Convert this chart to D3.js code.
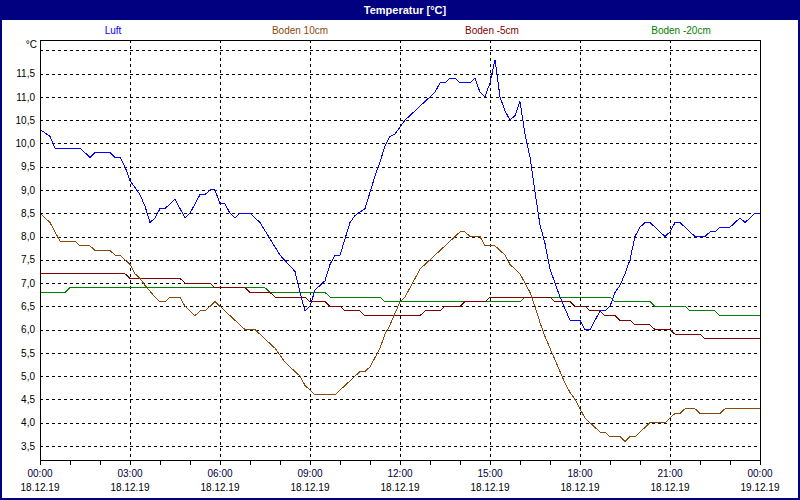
<!DOCTYPE html>
<html>
<head>
<meta charset="utf-8">
<script src="https://cdn.jsdelivr.net/npm/d3@7"></script>
<style>
  body { margin: 0; background: #fff; }
  svg { display: block; font-family: "Liberation Sans", Arial, sans-serif; }
</style>
</head>
<body>
<div id="chart"></div>
<script>
// series, [time, °C]
const luft = [["00:00",10.3],["00:20",10.15],["00:30",9.9],["01:20",9.9],["01:40",9.7],["01:50",9.8],["02:20",9.8],["02:30",9.7],["02:40",9.7],["02:50",9.5],["03:00",9.2],["03:10",9.05],["03:20",8.9],["03:30",8.65],["03:40",8.3],["03:50",8.4],["04:00",8.6],["04:10",8.6],["04:30",8.8],["04:40",8.6],["04:50",8.4],["05:00",8.5],["05:20",8.9],["05:30",8.9],["05:40",9.0],["05:50",9.0],["06:00",8.7],["06:10",8.7],["06:20",8.5],["06:30",8.4],["06:40",8.5],["07:00",8.5],["07:20",8.3],["07:40",7.95],["08:00",7.6],["08:30",7.25],["08:40",6.8],["08:50",6.4],["09:00",6.5],["09:10",6.85],["09:20",6.95],["09:30",7.05],["09:40",7.4],["09:50",7.6],["10:00",7.6],["10:10",7.95],["10:20",8.3],["10:30",8.45],["10:50",8.6],["11:00",8.95],["11:10",9.3],["11:20",9.6],["11:30",9.95],["11:40",10.15],["11:50",10.2],["12:00",10.35],["12:10",10.5],["12:20",10.6],["12:40",10.8],["13:00",11.0],["13:10",11.1],["13:20",11.3],["13:30",11.3],["13:40",11.4],["13:50",11.4],["14:00",11.3],["14:20",11.3],["14:30",11.4],["14:40",11.1],["14:50",11.0],["15:00",11.3],["15:10",11.8],["15:20",11.0],["15:30",10.7],["15:40",10.5],["15:50",10.6],["16:00",10.9],["16:10",10.2],["16:20",9.7],["16:30",8.95],["16:40",8.25],["16:50",7.85],["17:00",7.3],["17:10",7.0],["17:20",6.7],["17:30",6.45],["17:40",6.2],["18:00",6.2],["18:10",6.0],["18:20",6.0],["18:40",6.4],["18:50",6.4],["19:00",6.5],["19:10",6.8],["19:20",6.95],["19:30",7.2],["19:40",7.5],["19:50",8.0],["20:00",8.2],["20:10",8.3],["20:20",8.3],["20:50",8.0],["21:00",8.1],["21:10",8.3],["21:20",8.3],["21:50",8.0],["22:10",8.0],["22:20",8.1],["22:30",8.1],["22:40",8.2],["23:00",8.2],["23:20",8.4],["23:30",8.3],["23:50",8.5],["24:00",8.5]];

const boden10 = [["00:00",8.5],["00:20",8.3],["00:40",7.9],["01:10",7.9],["01:20",7.8],["01:40",7.8],["01:50",7.7],["02:20",7.7],["02:30",7.6],["02:40",7.6],["02:50",7.5],["03:00",7.4],["03:10",7.2],["03:20",7.1],["03:30",6.95],["03:50",6.7],["04:00",6.6],["04:10",6.6],["04:20",6.7],["04:40",6.7],["04:50",6.5],["05:00",6.4],["05:10",6.3],["05:20",6.4],["05:30",6.4],["05:50",6.6],["06:00",6.5],["06:10",6.4],["06:20",6.3],["06:30",6.2],["06:50",6.0],["07:10",6.0],["07:20",5.9],["07:30",5.8],["07:40",5.7],["07:50",5.6],["08:00",5.45],["08:10",5.3],["08:20",5.2],["08:40",5.0],["08:50",4.8],["09:00",4.7],["09:10",4.6],["09:50",4.6],["10:00",4.7],["10:30",5.0],["10:40",5.1],["10:50",5.1],["11:00",5.2],["11:10",5.4],["11:20",5.6],["11:30",5.9],["11:40",6.1],["11:50",6.35],["12:00",6.6],["12:10",6.7],["12:20",6.9],["12:40",7.3],["12:50",7.4],["13:00",7.5],["13:20",7.7],["13:30",7.8],["13:40",7.9],["13:50",8.0],["14:00",8.1],["14:10",8.1],["14:20",8.0],["14:40",8.0],["14:50",7.8],["15:10",7.8],["15:20",7.7],["15:30",7.6],["15:40",7.4],["15:50",7.3],["16:00",7.2],["16:10",7.0],["16:20",6.8],["16:30",6.5],["16:40",6.15],["16:50",5.85],["17:00",5.6],["17:10",5.35],["17:20",5.1],["17:30",4.85],["17:40",4.65],["17:50",4.5],["18:00",4.3],["18:10",4.1],["18:20",4.0],["18:30",3.9],["18:40",3.8],["18:50",3.8],["19:00",3.7],["19:20",3.7],["19:30",3.6],["19:40",3.7],["19:50",3.7],["20:00",3.8],["20:20",4.0],["20:50",4.0],["21:00",4.1],["21:10",4.2],["21:20",4.2],["21:30",4.3],["21:50",4.3],["22:00",4.2],["22:40",4.2],["22:50",4.3],["24:00",4.3]];

const boden5 = [["00:00",7.2],["02:50",7.2],["03:00",7.1],["04:40",7.1],["04:50",7.0],["05:40",7.0],["05:50",6.9],["06:50",6.9],["07:00",6.8],["07:40",6.8],["07:50",6.7],["08:50",6.7],["09:00",6.6],["09:30",6.6],["09:40",6.5],["10:00",6.5],["10:10",6.4],["10:40",6.4],["10:50",6.3],["12:40",6.3],["12:50",6.4],["13:20",6.4],["13:30",6.5],["14:00",6.5],["14:10",6.6],["14:50",6.6],["15:00",6.7],["17:00",6.7],["17:10",6.6],["17:40",6.6],["17:50",6.5],["18:10",6.5],["18:20",6.4],["18:40",6.4],["18:50",6.3],["19:10",6.3],["19:20",6.2],["19:40",6.2],["19:50",6.1],["20:20",6.1],["20:30",6.0],["21:00",6.0],["21:10",5.9],["22:00",5.9],["22:10",5.8],["24:00",5.8]];

const boden20 = [["00:00",6.8],["00:50",6.8],["01:00",6.9],["07:30",6.9],["07:40",6.8],["09:30",6.8],["09:40",6.7],["11:20",6.7],["11:30",6.6],["16:00",6.6],["16:10",6.7],["19:00",6.7],["19:10",6.6],["20:20",6.6],["20:30",6.5],["21:30",6.5],["21:40",6.4],["22:30",6.4],["22:40",6.3],["24:00",6.3]];

const seriesNames = ["Luft", "Boden 10cm", "Boden -5cm", "Boden -20cm"];
const seriesColors = ["#0000ff", "#8b4a0c", "#800000", "#008000"];
const yTicks = [3.5, 4.0, 4.5, 5.0, 5.5, 6.0, 6.5, 7.0, 7.5, 8.0, 8.5, 9.0, 9.5, 10.0, 10.5, 11.0, 11.5];
const yGrid = [3.5, 4.0, 4.5, 5.0, 5.5, 6.0, 6.5, 7.0, 7.5, 8.0, 8.5, 9.0, 9.5, 10.0, 10.5, 11.0, 11.5, 12.0];
const dayStart = "2019-12-18", dayEnd = "2019-12-19";

const w = 800, h = 500;
const pLeft = 40, pRight = 760, pTop = 40, pBottom = 460;
const legendX = [113, 300, 492, 681];

const toDate = s => {
  const [hh, mm] = s.split(":").map(Number);
  return new Date(2019, 11, 18, hh, mm);
};
const parseDay = d3.timeParse("%Y-%m-%d");

const x = d3.scaleTime([parseDay(dayStart), parseDay(dayEnd)], [pLeft, pRight]);
const y = d3.scaleLinear([3.5, 12.0], [446, 50.3]);

const svg = d3.select("#chart").append("svg")
  .attr("width", w)
  .attr("height", h);

// window frame
svg.append("rect").attr("x", 0).attr("y", 0).attr("width", w).attr("height", h).attr("fill", "#000080");
svg.append("rect").attr("x", 2).attr("y", 20).attr("width", w - 4).attr("height", h - 22).attr("fill", "#fff");

svg.append("text")
  .text("Temperatur [°C]")
  .attr("x", 405).attr("y", 14)
  .attr("text-anchor", "middle")
  .attr("font-size", 11).attr("font-weight", "bold")
  .attr("fill", "#fff");

// legend
svg.append("g").selectAll("text")
  .data(seriesNames)
  .join("text")
  .text(d => d)
  .attr("x", (d, i) => legendX[i]).attr("y", 34)
  .attr("text-anchor", "middle")
  .attr("font-size", 10)
  .attr("fill", (d, i) => seriesColors[i]);

// grid
const grid = svg.append("g")
  .attr("stroke", "#000").attr("stroke-dasharray", "3,3")
  .attr("shape-rendering", "crispEdges");
grid.selectAll("line.h").data(yGrid).join("line")
  .attr("class", "h")
  .attr("x1", pLeft).attr("x2", pRight)
  .attr("y1", d => Math.round(y(d)) + 0.5).attr("y2", d => Math.round(y(d)) + 0.5);
grid.selectAll("line.v").data(x.ticks(d3.timeHour.every(3)).slice(1, -1)).join("line")
  .attr("class", "v")
  .attr("y1", pTop).attr("y2", pBottom)
  .attr("x1", d => Math.round(x(d)) + 0.5).attr("x2", d => Math.round(x(d)) + 0.5);

// lines
const line = d3.line()
  .x(d => x(toDate(d[0])))
  .y(d => y(d[1]));

const allSeries = [boden20, boden5, boden10, luft];
const colorOrder = [3, 2, 1, 0];
svg.append("g").selectAll("path")
  .data(allSeries)
  .join("path")
  .attr("d", d => line(d))
  .attr("fill", "none")
  .attr("stroke", (d, i) => seriesColors[colorOrder[i]])
  .attr("stroke-width", 1)
  .attr("shape-rendering", "crispEdges");

// frame
svg.append("rect")
  .attr("x", pLeft + 0.5).attr("y", pTop + 0.5)
  .attr("width", pRight - pLeft).attr("height", pBottom - pTop)
  .attr("fill", "none").attr("stroke", "#000")
  .attr("shape-rendering", "crispEdges");

// y axis labels
const yAxis = d3.axisLeft(y)
  .tickValues(yTicks)
  .tickSize(0)
  .tickPadding(5)
  .tickFormat(d => d3.format(".1f")(d).replace(".", ","));
svg.append("g")
  .attr("transform", "translate(" + pLeft + ",0)")
  .call(yAxis)
  .call(g => g.select(".domain").remove())
  .call(g => g.selectAll("text").attr("font-size", 10).attr("fill", "#000").attr("font-family", null));

svg.append("text")
  .text("°C")
  .attr("x", 37).attr("y", 48)
  .attr("text-anchor", "end")
  .attr("font-size", 10);

// x axis
const xAxis = d3.axisBottom(x)
  .ticks(d3.timeHour.every(1))
  .tickSize(4)
  .tickFormat("");
svg.append("g")
  .attr("transform", "translate(0," + (pBottom + 0.5) + ")")
  .call(xAxis)
  .call(g => g.select(".domain").remove())
  .call(g => g.selectAll(".tick line").attr("shape-rendering", "crispEdges"));

const major = x.ticks(d3.timeHour.every(3));
const labels = svg.append("g").attr("font-size", 10).attr("text-anchor", "middle");
labels.selectAll("text.time").data(major).join("text")
  .attr("class", "time")
  .attr("x", d => x(d)).attr("y", 477)
  .attr("fill", "#000040")
  .text(d3.timeFormat("%H:%M"));
labels.selectAll("text.date").data(major).join("text")
  .attr("class", "date")
  .attr("x", d => x(d)).attr("y", 491)
  .attr("fill", "#000")
  .text(d3.timeFormat("%d.%m.%y"));
</script>
</body>
</html>
